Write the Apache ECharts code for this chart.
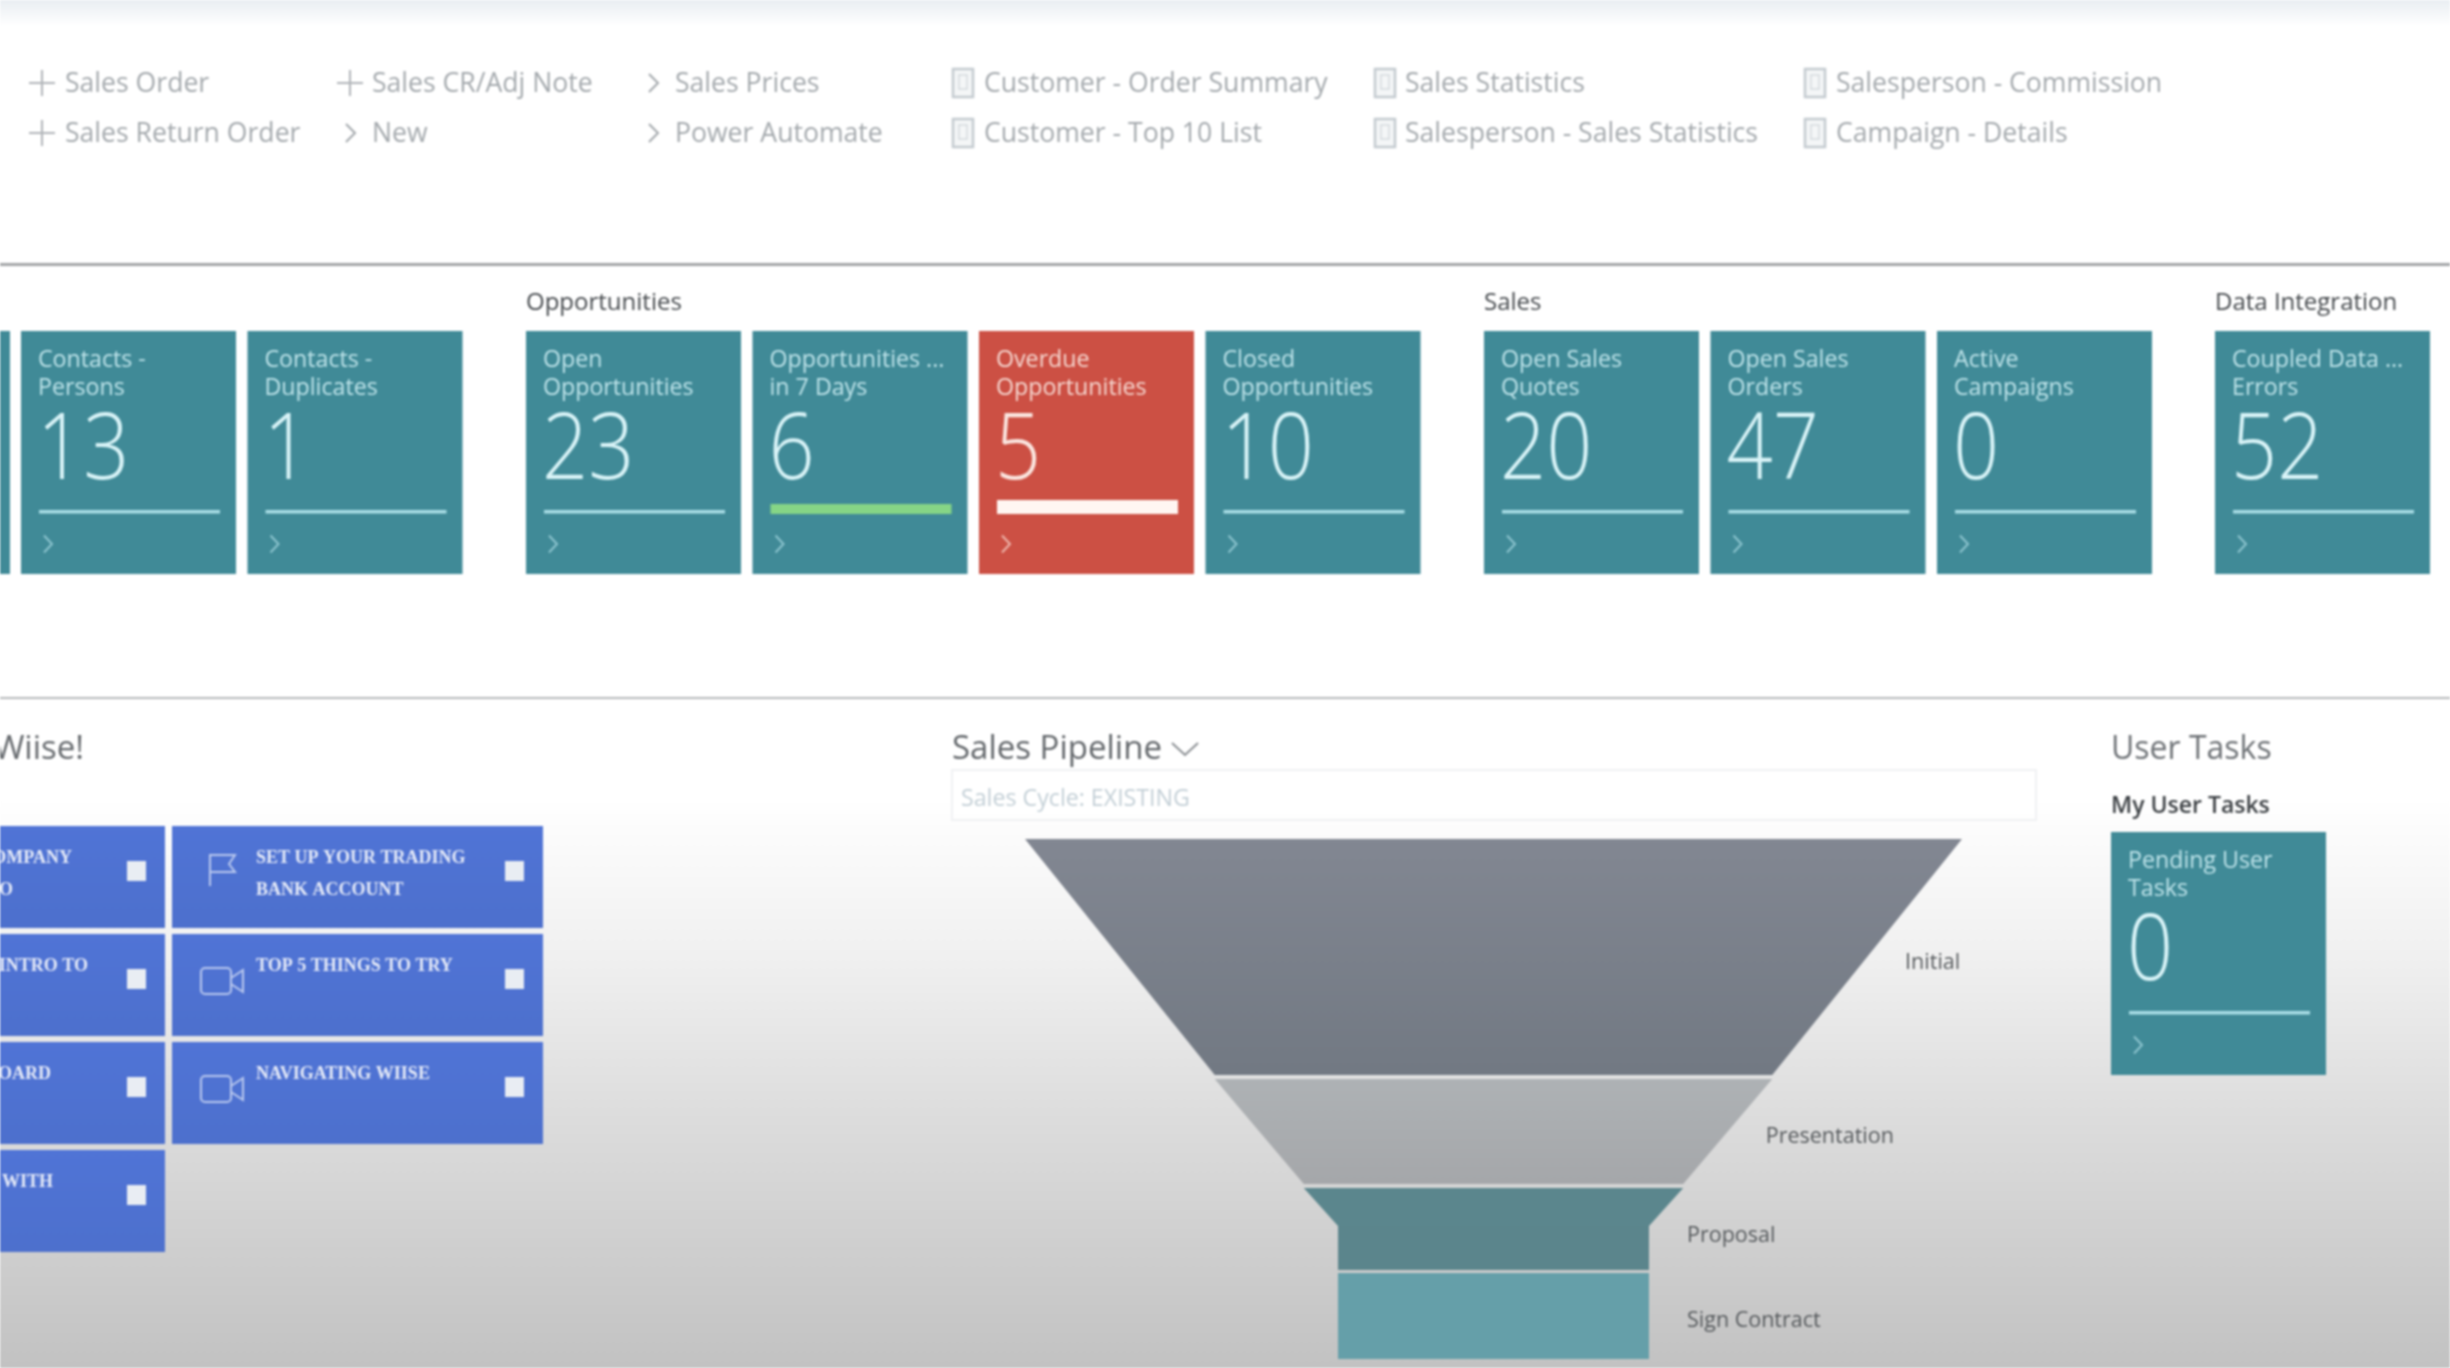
<!DOCTYPE html>
<html><head><meta charset="utf-8">
<style>html,body{margin:0;padding:0;background:#fff;overflow:hidden}#c{width:2450px;height:1368px;filter:blur(0.9px)}</style>
<script src="https://cdn.jsdelivr.net/npm/echarts@6/dist/echarts.min.js"></script>
</head><body><div id="c"></div>
<script>
// ---- data ----
const actionColumns = [
  ['Sales Order', 'Sales Return Order'],
  ['Sales CR/Adj Note', 'New'],
  ['Sales Prices', 'Power Automate'],
  ['Customer - Order Summary', 'Customer - Top 10 List'],
  ['Sales Statistics', 'Salesperson - Sales Statistics'],
  ['Salesperson - Commission', 'Campaign - Details']
];
const actionIcons = [['plus','plus'],['plus','chev'],['chev','chev'],['doc','doc'],['doc','doc'],['doc','doc']];
const groupNames = ['', 'Opportunities', 'Sales', 'Data Integration'];
const tileTitles = [
  ['Contacts -\nPersons', 'Contacts -\nDuplicates'],
  ['Open\nOpportunities', 'Opportunities ...\nin 7 Days', 'Overdue\nOpportunities', 'Closed\nOpportunities'],
  ['Open Sales\nQuotes', 'Open Sales\nOrders', 'Active\nCampaigns'],
  ['Coupled Data ...\nErrors']
];
const tileValues = [[13, 1], [23, 6, 5, 10], [20, 47, 0], [52]];
const tileTones = [['n','n'], ['n','good','bad','n'], ['n','n','n'], ['n']];
const userTaskTitle = 'Pending User\nTasks';
const userTaskValue = 0;
const wiiseRight = [['SET UP YOUR TRADING\nBANK ACCOUNT','flag'], ['TOP 5 THINGS TO TRY','video'], ['NAVIGATING WIISE','video']];
const wiiseLeft = ['OMPANY\nO', 'INTRO TO', 'OARD', 'WITH'];
const pipelineStages = ['Initial', 'Presentation', 'Proposal'];
const pipelineWidths = [100, 59.5, 40.5];
const pipelineNeckStages = ['Proposal', 'Sign Contract'];
const pipelineNeckWidths = [33.2, 33.2];

// ---- layout and styles ----
const FONT = '"Open Sans","Noto Sans",sans-serif';
const TEAL = '#408a97', RED = '#cc5044';
const els = [];
const text = (t, x, y, size, fill, o = {}, el = {}) => els.push(Object.assign({type:'text', silent:true, style:Object.assign({
  text:t, x, y, fontSize:size, fontFamily:FONT, fill, align:'left', verticalAlign:'middle'}, o)}, el));
const rect = (x, y, w, h, fill, o = {}) => els.push({type:'rect', silent:true, shape:{x, y, width:w, height:h}, style:Object.assign({fill}, o)});
const poly = (pts, stroke, lw = 2) => els.push({type:'polyline', silent:true, shape:{points:pts}, style:{stroke, lineWidth:lw, fill:null}});
const chev = (x, y, w, h, c, lw = 2) => poly([[x, y - h / 2], [x + w, y], [x, y + h / 2]], c, lw);

// top fade and separators
rect(0, 0, 2450, 26, new echarts.graphic.LinearGradient(0,0,0,1,[{offset:0,color:'#e9eef2'},{offset:1,color:'#ffffff'}]));
rect(0, 263, 2450, 3, '#a3a5a7');
rect(0, 697, 2450, 2, '#b6b8ba');

// action links
const iconX = [42, 350, 653, 962, 1384, 1814];
const textX = [65, 372, 675, 984, 1405, 1836];
const rowY = [84, 134];
actionColumns.forEach((col, c) => col.forEach((t, r) => {
  const y = rowY[r], ix = iconX[c], kind = actionIcons[c][r];
  text(t, textX[c], y, 26.6, '#a4a9ad');
  if (kind === 'plus') { poly([[ix-13,y-1],[ix+13,y-1]],'#b0b4b8'); poly([[ix,y-14],[ix,y+12]],'#b0b4b8'); }
  if (kind === 'chev') chev(ix-4, y-1, 9, 18, '#a4a9ad');
  if (kind === 'doc') { rect(ix-9, y-15, 20, 28, '#f4f6f7', {stroke:'#c4cbd0', lineWidth:2.5}); rect(ix-3, y-9, 8, 14, 'none', {stroke:'#d5dade', lineWidth:1.5}); }
}));

// KPI tiles
const tile = (x, y, title, value, tone) => {
  rect(x, y, 215, 243, tone === 'bad' ? RED : TEAL);
  const soft = tone === 'bad' ? '#f6d9d2' : '#bfe4ea';
  text(title, x + 17, y + 43, 23.2, soft, {lineHeight:28});
  text(String(value), 0, 0, 92, tone === 'bad' ? '#fbe6e0' : '#d8f3f7', {fontWeight:300}, {x:x + 16, y:y + 122, scaleX:0.88});
  if (tone === 'good') rect(x + 18, y + 173, 181, 10, '#86d586');
  else if (tone === 'bad') rect(x + 18, y + 169, 181, 14, '#fff6f2');
  else rect(x + 18, y + 179, 181, 3.5, '#a9dde6');
  chev(x + 23, y + 213, 8, 17, tone === 'bad' ? '#eeb5ab' : '#8cc4ce');
};
rect(0, 331, 10, 243, TEAL);
const groupX = [21, 526, 1484, 2215];
tileTitles.forEach((g, gi) => {
  if (groupNames[gi]) text(groupNames[gi], groupX[gi], 303, 24, '#45494d');
  g.forEach((t, i) => tile(groupX[gi] + i * 226.5, 331, t, tileValues[gi][i], tileTones[gi][i]));
});

// section headings
text('Wiise!', 84, 750, 33, '#666a6e', {align:'right'});
text('Sales Pipeline', 952, 750, 33, '#63676b');
poly([[1172,743],[1185,755],[1198,743]], '#8a8e92', 2);
text('User Tasks', 2111, 750, 32, '#6e7276');
text('My User Tasks', 2111, 806, 23, '#3c4044', {fontWeight:600});
rect(952, 770, 1084, 50, 'rgba(255,255,255,0.6)', {stroke:'#f0f1f3', lineWidth:2});
text('Sales Cycle: EXISTING', 961, 799, 23.2, '#c3cfd6');
tile(2111, 832, userTaskTitle, userTaskValue, 'n');

// Wiise task tiles
const blue = () => new echarts.graphic.LinearGradient(0,0,0,1,[{offset:0,color:'#5074d6'},{offset:1,color:'#4d70cd'}]);
const rowsY = [826, 934, 1042, 1150];
const taskText = {fontFamily:'"Liberation Serif",serif', fontWeight:'bold', lineHeight:32};
wiiseRight.forEach((r, i) => {
  const y = rowsY[i];
  rect(172, y, 371, 102, blue());
  text(r[0], 256, y + 32 + (r[0].includes('\n') ? 16 : 0), 18, '#e6ebf8', taskText);
  rect(505, y + 35, 19, 20, '#e9edf3');
  if (r[1] === 'flag') { poly([[210,y+60],[210,y+29],[235,y+29],[229,y+38],[235,y+46],[210,y+46]], '#b9c8ee', 2); }
  else { els.push({type:'rect', silent:true, shape:{x:201,y:y+34,width:30,height:26,r:4}, style:{fill:'none',stroke:'#b9c8ee',lineWidth:2}}); poly([[231,y+44],[243,y+36],[243,y+58],[231,y+50]], '#b9c8ee', 2); }
});
wiiseLeft.forEach((t, i) => {
  const y = rowsY[i];
  rect(0, y, 165, 102, blue());
  const parts = t.split('\n');
  const ends = [[72, 13], [88], [51], [53]];
  parts.forEach((p, k) => text(p, ends[i][k], y + 32 + k * 32, 18, '#e6ebf8', Object.assign({}, taskText, {align:'right'})));
  rect(127, y + 35, 19, 20, '#e9edf3');
});

// ---- funnel ----
const grad = (a, b) => new echarts.graphic.LinearGradient(0,0,0,1,[{offset:0,color:a},{offset:1,color:b}]);
const labelCommon = {position:'right', color:'#55595c', fontSize:21.5, fontFamily:FONT};
const funnelCommon = {type:'funnel', sort:'none', left:1025, width:937, min:33.2, max:100, minSize:311, maxSize:937, funnelAlign:'center',
  silent:true, labelLine:{show:false, length:33}, itemStyle:{borderWidth:0}, label:labelCommon};
const upperHeights = [236, 105, 38];
const upperColors = [grad('#828792','#727983'), grad('#aeb2b5','#a5a7aa'), '#5b868d'];
const upperLabelShift = [6, 5, 0];
const lowerHeights = [44, 86];
const lowerColors = ['#5b858c', '#659fa9'];
const lowerLabelShift = [-12, 5];

const option = {
  animation:false,
  backgroundColor:new echarts.graphic.LinearGradient(0,0,0,1,[
    {offset:0,color:'#ffffff'},{offset:0.585,color:'#ffffff'},{offset:0.7,color:'#f0f0f0'},{offset:0.82,color:'#dcdcdc'},{offset:1,color:'#c2c2c2'}]),
  graphic:{elements:els},
  series:[
    Object.assign({}, funnelCommon, {top:839, height:387, gap:4,
      labelLayout:(p) => ({dy:upperLabelShift[p.dataIndex]}),
      data:pipelineStages.map((name, i) => ({name, value:pipelineWidths[i],
        itemStyle:{height:upperHeights[i], color:upperColors[i]},
        label:{show:i < 2}}))}),
    Object.assign({}, funnelCommon, {top:1226, height:132, gap:3,
      labelLayout:(p) => ({dy:lowerLabelShift[p.dataIndex]}),
      data:pipelineNeckStages.map((name, i) => ({name, value:pipelineNeckWidths[i],
        itemStyle:{height:lowerHeights[i], color:lowerColors[i]},
        label:{show:true}}))})
  ]
};
echarts.init(document.getElementById('c')).setOption(option);
</script></body></html>
